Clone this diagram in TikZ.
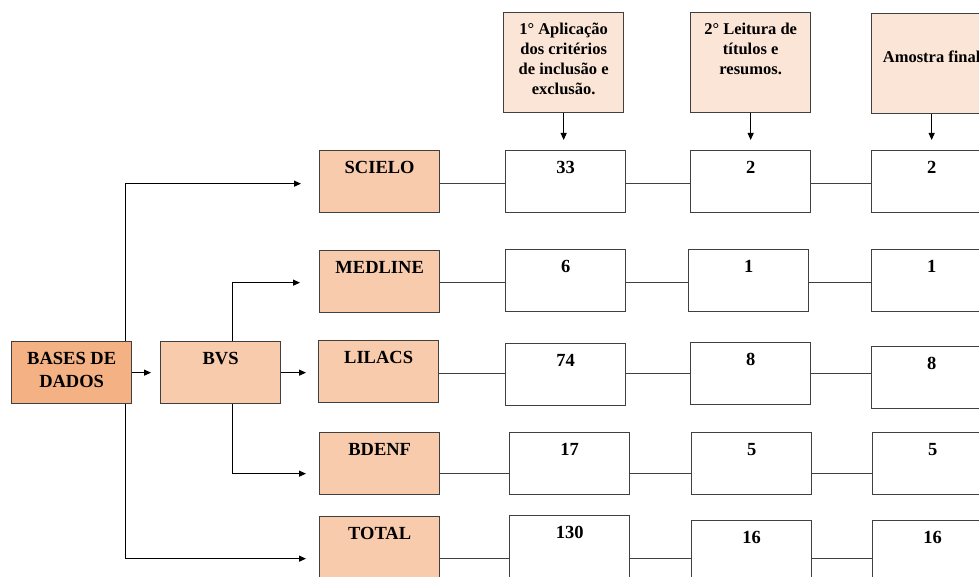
\documentclass[tikz,border=0pt]{standalone}
\usepackage{fontspec}
\setmainfont{Liberation Serif}
\usetikzlibrary{arrows.meta}
\definecolor{headfill}{HTML}{FBE5D6}
\definecolor{dbfill}{HTML}{F8CBAD}
\definecolor{basefill}{HTML}{F4B183}
\definecolor{edge}{HTML}{404040}

\begin{document}
\begin{tikzpicture}[x=1pt, y=-1pt,
    box/.style={draw=edge, line width=1.3pt, anchor=north west, minimum width=120pt, minimum height=62pt, inner sep=0pt},
    db/.style={box, fill=dbfill},
    head/.style={box, fill=headfill, minimum height=100pt},
    txt/.style={anchor=north, inner sep=0pt, yshift=-11pt, align=center, font=\fontsize{18.5}{23}\selectfont\bfseries},
    htxt/.style={txt, font=\fontsize{16.5}{20}\selectfont\bfseries},
    arr/.style={-{Triangle[length=7pt,width=6pt]}, line width=1.1pt},
    link/.style={draw=edge, line width=1.3pt}]
    \clip (0,0) rectangle (979,577);

    \node[head, label={[htxt]north:{1° Aplicação\\dos critérios\\de inclusão e\\exclusão.}}] (crit) at (503,12) {};
    \node[head, label={[htxt]north:{2° Leitura de\\títulos e\\resumos.}}] (leit) at (690,12) {};
    \node[head, label={[htxt, yshift=-27pt]north:Amostra final}] (fin) at (871,13) {};

    \node[box, fill=basefill, label={[txt]north:{BASES DE\\DADOS}}] (bases) at (11,341) {};
    \node[db, label={[txt]north:BVS}] (bvs) at (160,341) {};

    \node[db, label={[txt]north:SCIELO}] (scielo) at (319,150) {};
    \node[db, label={[txt]north:MEDLINE}] (medline) at (319,250) {};
    \node[db, label={[txt]north:LILACS}] (lilacs) at (318,340) {};
    \node[db, label={[txt]north:BDENF}] (bdenf) at (319,432) {};
    \node[db, label={[txt]north:TOTAL}] (total) at (319,516) {};

    \node[box, label={[txt]north:33}] (crit1) at (505,150) {};
    \node[box, label={[txt]north:2}] (leit1) at (690,150) {};
    \node[box, label={[txt]north:2}] (fin1) at (871,150) {};
    \node[box, label={[txt]north:6}] (crit2) at (505,249) {};
    \node[box, label={[txt]north:1}] (leit2) at (688,249) {};
    \node[box, label={[txt]north:1}] (fin2) at (871,249) {};
    \node[box, label={[txt]north:74}] (crit3) at (505,343) {};
    \node[box, label={[txt]north:8}] (leit3) at (690,342) {};
    \node[box, label={[txt]north:8}] (fin3) at (871,346) {};
    \node[box, label={[txt]north:17}] (crit4) at (509,432) {};
    \node[box, label={[txt]north:5}] (leit4) at (691,432) {};
    \node[box, label={[txt]north:5}] (fin4) at (872,432) {};
    \node[box, label={[txt]north:130}] (crit5) at (509,515) {};
    \node[box, label={[txt]north:16}] (leit5) at (691,520) {};
    \node[box, label={[txt]north:16}] (fin5) at (872,520) {};

    \foreach \db/\n/\dy in {scielo/1/2, medline/2/1, lilacs/3/2, bdenf/4/10, total/5/11}{
        \coordinate (in\n) at ([yshift=-\dy pt]\db.west);
        \coordinate (out\n) at ([yshift=-\dy pt]\db.east);
        \draw[link] (out\n) -- (out\n -| crit\n.west) (out\n -| crit\n.east) -- (out\n -| leit\n.west)
            (out\n -| leit\n.east) -- (out\n -| fin\n.west);
    }

    \draw[arr, shorten >=9pt] (bases.east) -- (bvs.west);
    \draw[arr, shorten >=12pt] (bvs.east) -- (bvs.east -| in3);
    \draw[arr, shorten >=18pt] ([xshift=-7pt]bases.north east) |- (in1);
    \draw[arr, shorten >=13pt] ([xshift=-7pt]bases.south east) |- (in5);
    \draw[arr, shorten >=19pt] ([xshift=12pt]bvs.north) |- (in2);
    \draw[arr, shorten >=13pt] ([xshift=12pt]bvs.south) |- (in4);

    \draw[arr, shorten >=10pt] (crit.south) -- (crit.south |- crit1.north);
    \draw[arr, shorten >=10pt] (leit.south) -- (leit.south |- leit1.north);
    \draw[arr, shorten >=10pt] (fin.south) -- (fin.south |- fin1.north);
\end{tikzpicture}
\end{document}
